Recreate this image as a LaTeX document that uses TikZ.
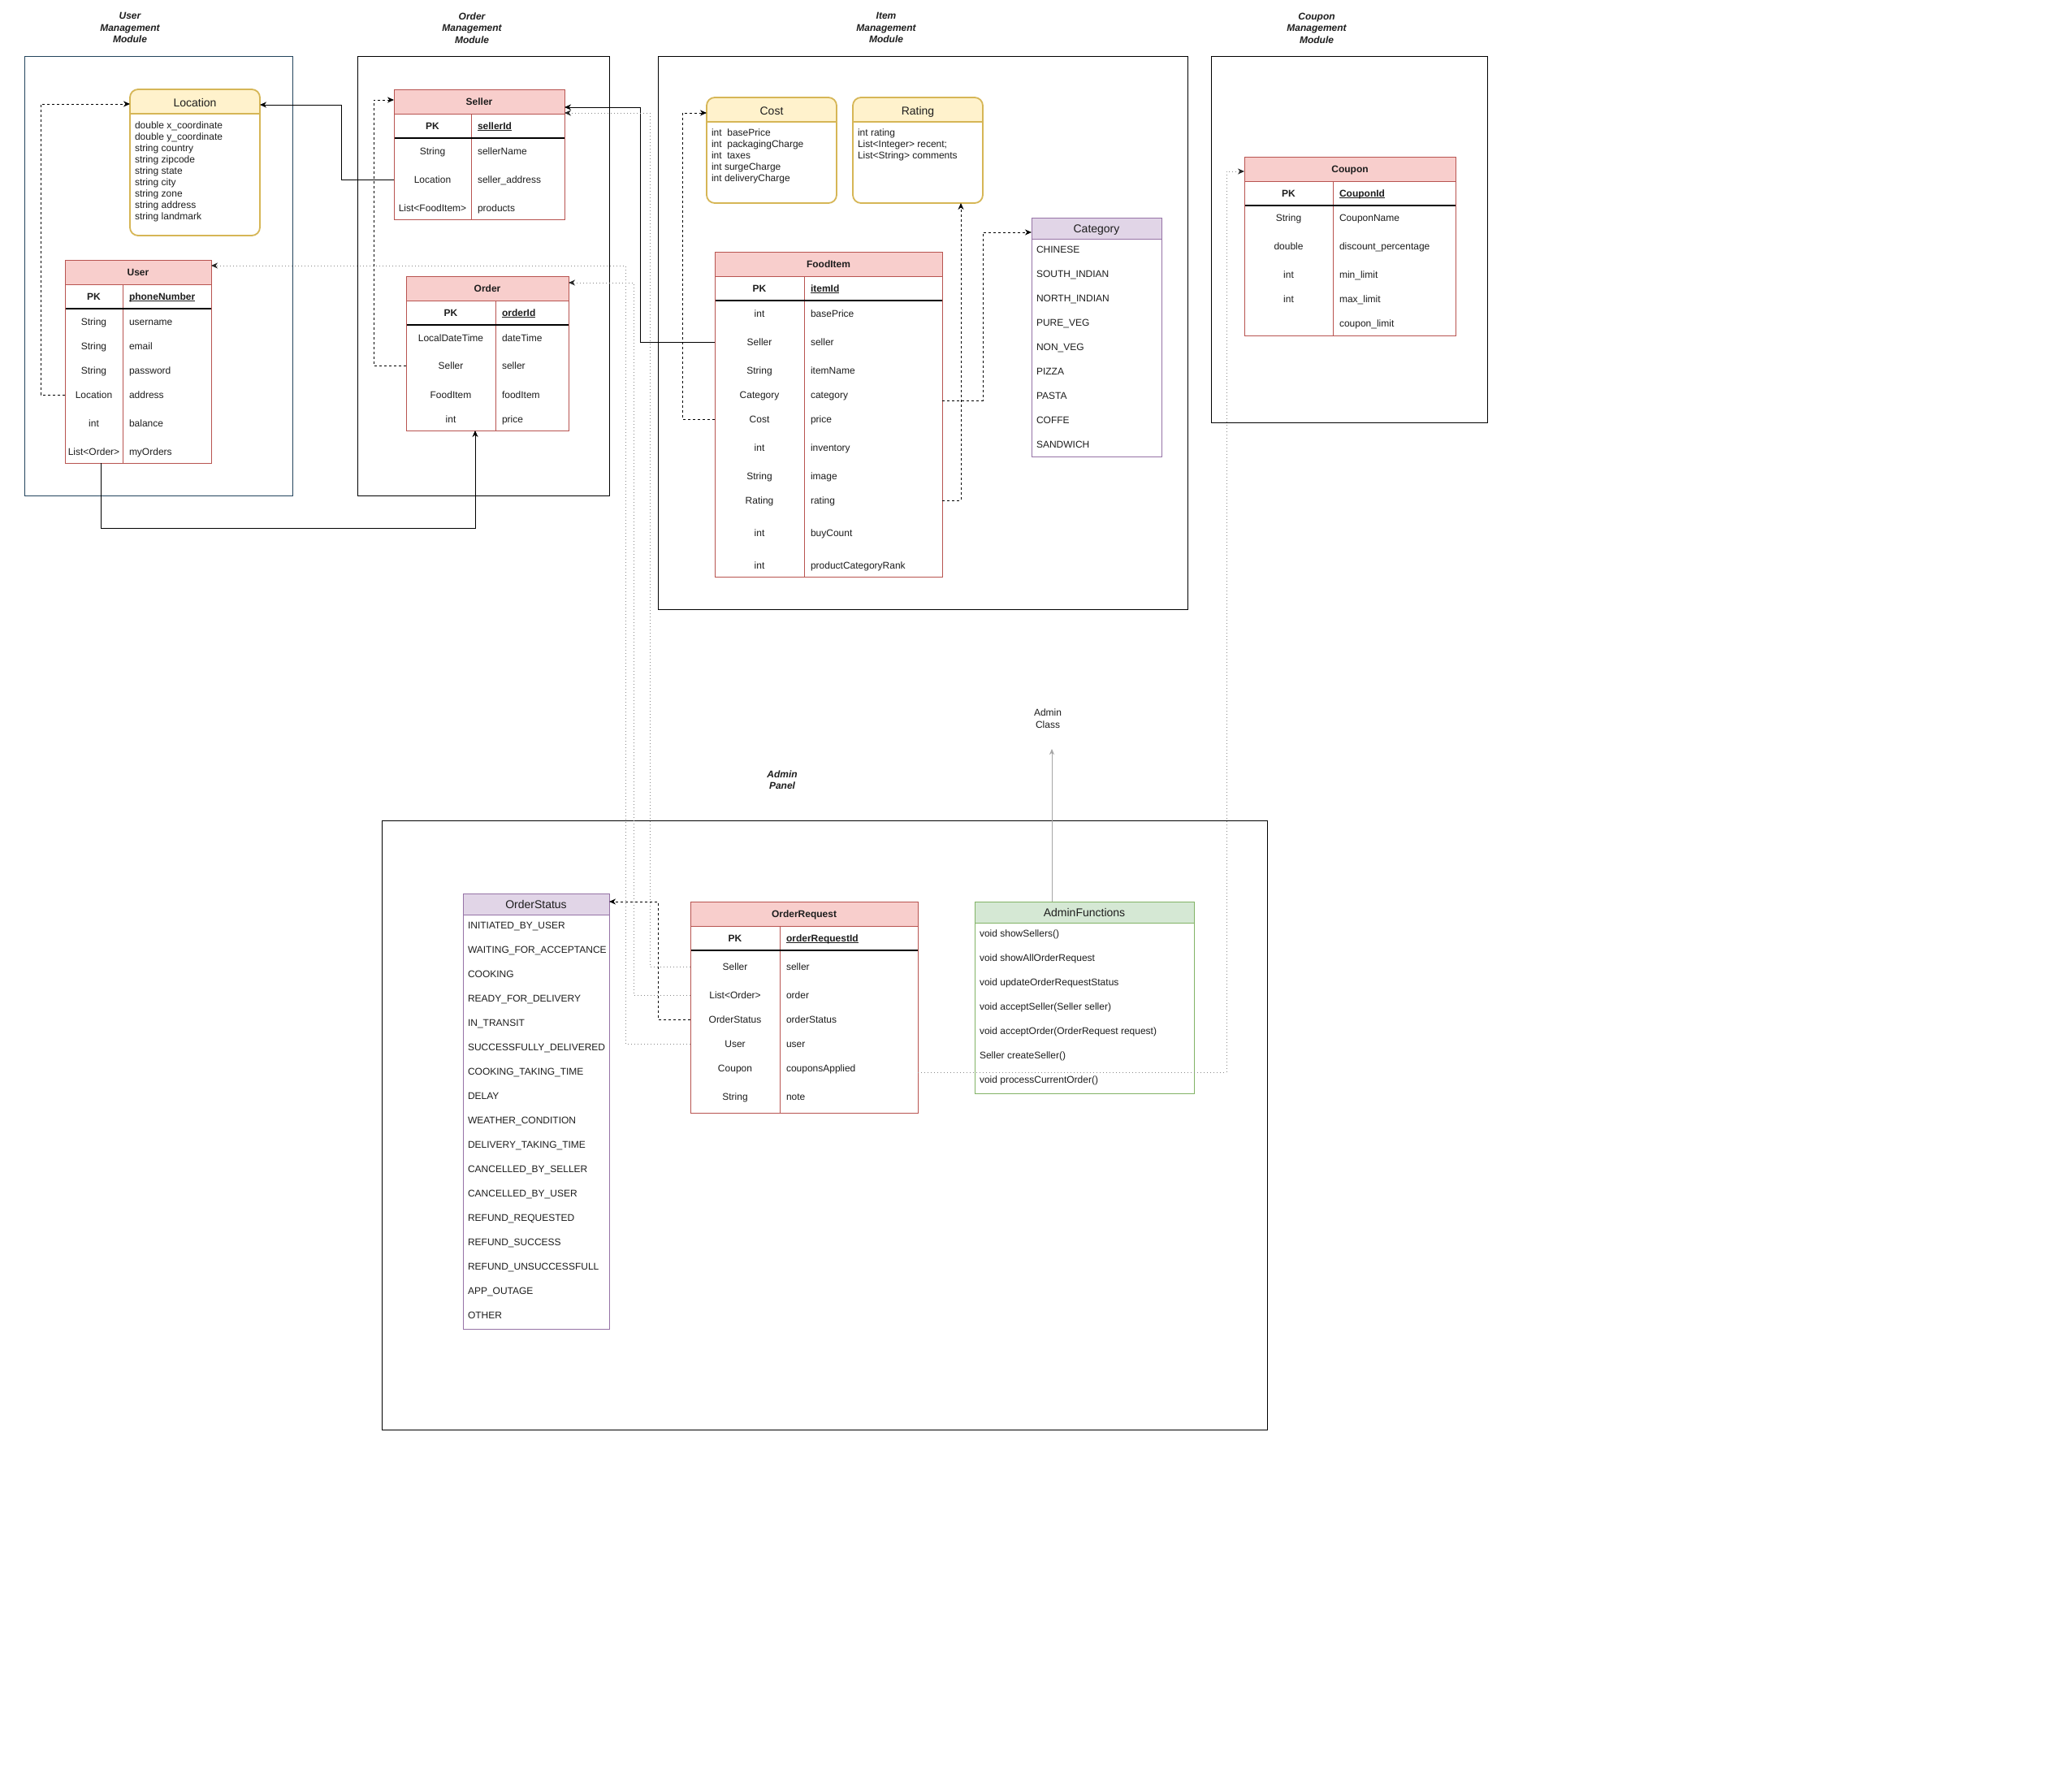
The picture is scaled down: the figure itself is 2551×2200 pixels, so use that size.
\documentclass[tikz,border=0pt]{standalone}
\usepackage{fontspec}
\setmainfont{Liberation Sans}
\usetikzlibrary{arrows.meta}
\definecolor{redfill}{HTML}{F8CECC}
\definecolor{redline}{HTML}{B85450}
\definecolor{yellowfill}{HTML}{FFF2CC}
\definecolor{yellowline}{HTML}{D6B656}
\definecolor{purplefill}{HTML}{E1D5E7}
\definecolor{purpleline}{HTML}{9673A6}
\definecolor{greenfill}{HTML}{D5E8D4}
\definecolor{greenline}{HTML}{82B366}
\definecolor{userblue}{HTML}{23445D}
\definecolor{dotgray}{HTML}{8A8A8A}
\definecolor{arrgray}{HTML}{A6A6A6}
\definecolor{txtc}{HTML}{1E1E1E}

\newcommand\pkul[1]{\setbox0\hbox{#1}\rlap{\rule[-1.8pt]{\wd0}{0.9pt}}\box0}

\newcommand\mktable[9]{%
  \pgfmathsetmacro\tbw{#4-#2}\pgfmathsetmacro\tbh{#5-#3}%
  \pgfmathsetmacro\tbc{(#2+#6)/2}\pgfmathsetmacro\tbn{#6+8}%
  \pgfmathsetmacro\tbm{(#2+#4)/2}%
  \fill[redfill] (#2,#3) rectangle (#4,{#3+30});
  \draw[redline, line width=1pt] (#2,{#3+30}) -- (#4,{#3+30}) (#6,{#3+30}) -- (#6,#5);
  \draw[black, line width=1.1pt] (#2,{#3+60}) -- (#4,{#3+60});
  \node[tblbox, minimum width=\tbw pt, minimum height=\tbh pt] (#1) at (#2,#3) {};
  \node[hdr] (#1-h) at (\tbm,{#3+15}) {#7};
  \node[hdr] (#1-pk) at (\tbc,{#3+45}) {PK};
  \node[hdr, anchor=west] (#1-id) at (\tbn,{#3+45}) {\pkul{#8}};
  \foreach \yy/\ty/\nm [count=\ii] in {#9} {\node[typ] (#1-t\ii) at (\tbc,\yy) {\ty}; \node[nam] (#1-n\ii) at (\tbn,\yy) {\nm};}
}

\newcommand\mklist[8]{%
  \pgfmathsetmacro\tbw{#4-#2}\pgfmathsetmacro\tbh{#5-#3}\pgfmathsetmacro\tbm{(#2+#4)/2}%
  \fill[#6fill] (#2,#3) rectangle (#4,{#3+26});
  \draw[#6line, line width=1pt] (#2,{#3+26}) -- (#4,{#3+26});
  \node[draw=#6line, line width=1pt, inner sep=0pt, outer sep=0pt, anchor=north west, minimum width=\tbw pt, minimum height=\tbh pt] (#1) at (#2,#3) {};
  \node[ttl] (#1-h) at (\tbm,{#3+13}) {#7};
  \foreach \nm [count=\ii from 0] in {#8} {\node[nam] (#1-i\ii) at ({#2+6},{#3+39+30*\ii}) {\nm};}
}

\newcommand\mkybox[6]{%
  \pgfmathsetmacro\tbw{#4-#2}\pgfmathsetmacro\tbh{#5-#3}\pgfmathsetmacro\tbm{(#2+#4)/2}%
  \begin{scope}
    \clip[rounded corners=10pt] (#2,#3) rectangle (#4,#5);
    \fill[yellowfill] (#2,#3) rectangle (#4,{#3+30});
  \end{scope}
  \draw[yellowline, line width=1.8pt] (#2,{#3+30}) -- (#4,{#3+30});
  \node[draw=yellowline, line width=1.8pt, rounded corners=10pt, inner sep=0pt, outer sep=0pt, anchor=north west, minimum width=\tbw pt, minimum height=\tbh pt] (#1) at (#2,#3) {};
  \node[ttl] (#1-h) at (\tbm,{#3+16}) {#6};
}

\begin{document}
\begin{tikzpicture}[x=1pt,y=-1pt,
  txt/.style={inner sep=0pt, outer sep=0pt, text height=8.6pt, text depth=0pt, font=\fontsize{12}{14}\selectfont, text=txtc},
  typ/.style={txt, anchor=center},
  nam/.style={txt, anchor=west},
  hdr/.style={txt, font=\fontsize{12}{14}\selectfont\bfseries},
  ttl/.style={inner sep=0pt, outer sep=0pt, text height=10pt, text depth=0pt, font=\fontsize{14}{16}\selectfont, text=txtc},
  body/.style={inner sep=0pt, outer sep=0pt, anchor=north west, align=left, font=\fontsize{12}{14}\selectfont, text=txtc},
  modlbl/.style={inner sep=0pt, outer sep=0pt, align=center, anchor=north, font=\fontsize{12}{14.5}\selectfont\bfseries\itshape, text=txtc},
  plainlbl/.style={inner sep=0pt, outer sep=0pt, align=center, anchor=north, font=\fontsize{12}{15}\selectfont, text=txtc},
  tblbox/.style={draw=redline, line width=1pt, inner sep=0pt, outer sep=0pt, anchor=north west},
  modbox/.style={draw=black, line width=1pt, inner sep=0pt, outer sep=0pt, anchor=north west},
  solidc/.style={draw=black, line width=1pt, -{Stealth[length=8pt,width=7pt,inset=2.5pt]}},
  dashc/.style={draw=black, line width=1pt, dash pattern=on 3pt off 3pt, -{Stealth[length=8pt,width=7pt,inset=2.5pt]}},
  dotc/.style={draw=dotgray, line width=1pt, dash pattern=on 1pt off 3pt, -{Stealth[length=8pt,width=7pt,inset=2.5pt,color=black!85]}},
  grayc/.style={draw=arrgray, line width=1pt, -{Stealth[length=7pt,width=6pt,inset=2pt]}},
]
\fill[white] (0,0) rectangle (2551,2200);
\useasboundingbox (0,0) rectangle (2551,2200);

% module frames
\node[modbox, draw=userblue, minimum width=330pt, minimum height=540pt] (umod) at (30,70) {};
\node[modbox, minimum width=310pt, minimum height=540pt] (omod) at (440,70) {};
\node[modbox, minimum width=652pt, minimum height=680pt] (imod) at (810,70) {};
\node[modbox, minimum width=340pt, minimum height=450pt] (cmod) at (1491,70) {};
\node[modbox, minimum width=1090pt, minimum height=750pt] (apan) at (470,1010) {};

\node[modlbl] (umod-l) at (160,15.7) {User\\Management\\Module};
\node[modlbl] (omod-l) at (581,15.7) {Order\\Management\\Module};
\node[modlbl] (imod-l) at (1091,15.7) {Item\\Management\\Module};
\node[modlbl] (cmod-l) at (1621,15.7) {Coupon\\Management\\Module};
\node[modlbl] (apan-l) at (963,948.7) {Admin\\Panel};
\node[plainlbl] (acl) at (1290,872.7) {Admin\\Class};

% rounded value boxes
\mkybox{loc}{160}{110}{320}{290}{Location}
\node[body] (loc-b) at (166,149.7) {double x\_coordinate\\double y\_coordinate\\string country\\string zipcode\\string state\\string city\\string zone\\string address\\string landmark};
\mkybox{cost}{870}{120}{1030}{250}{Cost}
\node[body] (cost-b) at (876,158.7) {int\ \ basePrice\\int\ \ packagingCharge\\int\ \ taxes\\int surgeCharge\\int deliveryCharge};
\mkybox{rating}{1050}{120}{1210}{250}{Rating}
\node[body] (rating-b) at (1056,158.7) {int rating\\List<Integer> recent;\\List<String> comments};

% tables
\mktable{user}{80}{320}{260}{570}{151}{User}{phoneNumber}{396/String/username, 426/String/email, 456/String/password, 486/Location/address, 521/int/balance, 556/List<Order>/myOrders}
\mktable{seller}{485}{110}{695}{270}{580}{Seller}{sellerId}{186/String/sellerName, 221/Location/seller\_address, 256/List<FoodItem>/products}
\mktable{order}{500}{340}{700}{530}{610}{Order}{orderId}{416/LocalDateTime/dateTime, 450/Seller/seller, 486/FoodItem/foodItem, 516/int/price}
\mktable{food}{880}{310}{1160}{710}{990}{FoodItem}{itemId}{386/int/basePrice, 421/Seller/seller, 456/String/itemName, 486/Category/category, 516/Cost/price, 551/int/inventory, 586/String/image, 616/Rating/rating, 656/int/buyCount, 696/int/productCategoryRank}
\mktable{coupon}{1532}{193}{1792}{413}{1641}{Coupon}{CouponId}{268/String/CouponName, 303/double/discount\_percentage, 338/int/min\_limit, 368/int/max\_limit, 398//coupon\_limit}
\mktable{oreq}{850}{1110}{1130}{1370}{960}{OrderRequest}{orderRequestId}{1190/Seller/seller, 1225/List<Order>/order, 1255/OrderStatus/orderStatus, 1285/User/user, 1315/Coupon/couponsApplied, 1350/String/note}

% enum / class lists
\mklist{catg}{1270}{268}{1430}{562}{purple}{Category}{CHINESE, SOUTH\_INDIAN, NORTH\_INDIAN, PURE\_VEG, NON\_VEG, PIZZA, PASTA, COFFE, SANDWICH}
\mklist{ostat}{570}{1100}{750}{1636}{purple}{OrderStatus}{INITIATED\_BY\_USER, WAITING\_FOR\_ACCEPTANCE, COOKING, READY\_FOR\_DELIVERY, IN\_TRANSIT, SUCCESSFULLY\_DELIVERED, COOKING\_TAKING\_TIME, DELAY, WEATHER\_CONDITION, DELIVERY\_TAKING\_TIME, CANCELLED\_BY\_SELLER, CANCELLED\_BY\_USER, REFUND\_REQUESTED, REFUND\_SUCCESS, REFUND\_UNSUCCESSFULL, APP\_OUTAGE, OTHER}
\mklist{adminf}{1200}{1110}{1470}{1346}{green}{AdminFunctions}{void showSellers(), void showAllOrderRequest, void updateOrderRequestStatus, void acceptSeller(Seller seller), void acceptOrder(OrderRequest request), Seller createSeller(), void processCurrentOrder()}

% connectors
\draw[dashc] (user.west |- user-t4) -| (50,128) -- ([yshift=-18pt]loc.north west);
\draw[solidc] (seller.west |- seller-t2) -| (420,129) -- ([yshift=-19pt]loc.north east);
\draw[dashc] (order.west |- order-t2) -| (460,123) -- ([yshift=-13pt]seller.north west);
\draw[solidc] ([xshift=-46pt]user.south) |- (585,650) -- ([xshift=-15pt]order.south);
\draw[solidc] (food.west |- food-t2) -| (788,132) -- ([yshift=-22pt]seller.north east);
\draw[dashc] (food.west |- food-t5) -| (840,139) -- ([yshift=-19pt]cost.north west);
\draw[dashc] (food.east |- food-t8) -| ([xshift=-27pt]rating.south east);
\draw[dashc] ([yshift=-183pt]food.north east) -| (1210,286) -- ([yshift=-18pt]catg.north west);
\draw[dotc] (oreq.west |- oreq-t1) -| (800,139) -- ([yshift=-29pt]seller.north east);
\draw[dotc] (oreq.west |- oreq-t2) -| (780,348) -- ([yshift=-8pt]order.north east);
\draw[dotc] (oreq.west |- oreq-t4) -| (770,327) -- ([yshift=-7pt]user.north east);
\draw[dashc] (oreq.west |- oreq-t3) -| (810,1110) -- ([yshift=-10pt]ostat.north east);
\draw[dotc] ([yshift=-210pt]oreq.north east) -| (1510,211) -- ([yshift=-18pt]coupon.north west);
\coordinate (aclend) at (1295,922);
\draw[grayc] ([xshift=-40pt]adminf.north) -- (aclend);
\end{tikzpicture}
\end{document}
